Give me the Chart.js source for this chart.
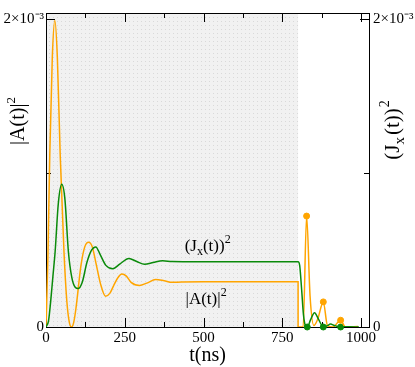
<!DOCTYPE html>
<html><head><meta charset="utf-8">
<script src="https://cdn.jsdelivr.net/npm/chart.js@4"></script>
<style>html,body{margin:0;padding:0;background:#fff;}</style>
</head><body>
<canvas id="c" width="415" height="367"></canvas>
<script>
// ---- data (values in units of 10^-3) ----
const timesA = [0,6,12,20,28,36,45,57,66,74,81,88,95,111,123,135,147,158,173,189,203,215,228,241,255,270,297,320,348,375,400,430,500,600,700,800,800,816,827,838,850,862,880,893,910,935,950,990];
const valuesA = [0,0.45,1.12,1.75,1.99,1.75,1.12,0.49,0.17,0.03,0,0.03,0.12,0.4,0.52,0.55,0.52,0.42,0.28,0.2,0.22,0.27,0.32,0.344,0.33,0.29,0.27,0.285,0.308,0.3,0.29,0.292,0.293,0.293,0.293,0.293,0,0,0.72,0.2,0.01,0.05,0.163,0.01,0,0.044,0,0.003];
const timesJ = [0,8,15,22,29,39,50,60,71,82,92,103,115,130,145,158,172,190,212,235,263,288,313,340,370,400,450,800,805,811,817,824,829,840,852,865,880,892,903,915,935,960,993];
const valuesJ = [0,0.04,0.17,0.33,0.49,0.8,0.926,0.83,0.49,0.32,0.26,0.25,0.29,0.42,0.5,0.52,0.47,0.4,0.378,0.41,0.445,0.425,0.407,0.418,0.43,0.425,0.424,0.424,0.4,0.25,0.08,0.005,0,0.05,0.093,0.05,0,0.008,0.019,0.01,0,0.002,0];
const dotTimesA = [827,880,935];
const dotValuesA = [0.72,0.163,0.044];
const dotTimesJ = [829,880,935];
const dotValuesJ = [0,0,0];
const shadeRange = [0,800];
const xTicks = [0,250,500,750,1000];
const xMinorTicks = [125,375,625,875];
const yTicks = [0,2];
const yTickLabels = ['0','2×10⁻³'];
const yMinorTicks = [1];

const X_MAX = 1025, Y_MAX = 2.038;
const ORANGE = '#ffa500', GREEN = '#0a8a0a';
const SERIF = '"Liberation Serif", "Times New Roman", serif';

function pts(ts, vs){ return ts.map((t,i)=>({x:t,y:vs[i]})); }

function richText(ctx, parts, cx, cy, rot){
  ctx.save();
  ctx.translate(cx, cy);
  ctx.rotate(rot||0);
  ctx.textBaseline = 'alphabetic';
  ctx.textAlign = 'left';
  let w = 0;
  parts.forEach(p=>{ ctx.font = p.size+'px '+SERIF; p.w = ctx.measureText(p.t).width + (p.gap||0); w += p.w; });
  let x = -w/2;
  parts.forEach(p=>{ ctx.font = p.size+'px '+SERIF; ctx.fillStyle='#000'; ctx.fillText(p.t, x, p.dy||0); x += p.w; });
  ctx.restore();
}

const decor = {
  id:'decor',
  beforeDatasetsDraw(chart){
    const {ctx, chartArea:a, scales} = chart;
    const x = scales.x, y = scales.y;
    const pc = document.createElement('canvas'); pc.width = 4; pc.height = 4;
    const p = pc.getContext('2d');
    p.fillStyle = '#f1f1f1'; p.fillRect(0,0,4,4);
    p.fillStyle = '#d9d9d9'; p.fillRect(1,1,1,1);
    ctx.save();
    ctx.fillStyle = ctx.createPattern(pc,'repeat');
    const x0 = x.getPixelForValue(shadeRange[0]), x1 = x.getPixelForValue(shadeRange[1]);
    ctx.fillRect(x0, a.top, x1-x0, a.bottom-a.top);
    // frame
    ctx.strokeStyle = '#000'; ctx.lineWidth = 1;
    ctx.strokeRect(Math.round(a.left)+0.5, Math.round(a.top)+0.5, Math.round(a.right-a.left), Math.round(a.bottom-a.top));
    // inward ticks
    ctx.beginPath();
    const tk = (v, len)=>{ const px = Math.round(x.getPixelForValue(v))+0.5;
      ctx.moveTo(px, a.bottom); ctx.lineTo(px, a.bottom-len);
      ctx.moveTo(px, a.top); ctx.lineTo(px, a.top+len); };
    xTicks.forEach(v=>tk(v,9)); xMinorTicks.forEach(v=>tk(v,5));
    const ytk = (v, len)=>{ const py = Math.round(y.getPixelForValue(v))+0.5;
      ctx.moveTo(a.left, py); ctx.lineTo(a.left+len, py);
      ctx.moveTo(a.right, py); ctx.lineTo(a.right-len, py); };
    yTicks.forEach(v=>ytk(v,9)); yMinorTicks.forEach(v=>ytk(v,5));
    ctx.stroke();
    ctx.restore();
  },
  afterDraw(chart){
    const {ctx, scales} = chart;
    const x = scales.x, y = scales.y;
    // axis titles
    richText(ctx, [{t:'|A(t)|',size:20},{t:'2',size:13,dy:-9}], 24, 121, -Math.PI/2);
    richText(ctx, [{t:'(J',size:21},{t:'x',size:15,dy:5,gap:2},{t:'(t))',size:21,gap:1},{t:'2',size:14,dy:-10}], 399, 130, -Math.PI/2);
    // in-plot annotations
    richText(ctx, [{t:'(J',size:17},{t:'x',size:12,dy:4},{t:'(t))',size:17},{t:'2',size:12,dy:-8}], x.getPixelForValue(513), y.getPixelForValue(0.495), 0);
    richText(ctx, [{t:'|A(t)|',size:17},{t:'2',size:12,dy:-8}], x.getPixelForValue(508), y.getPixelForValue(0.15), 0);
  }
};

new Chart(document.getElementById('c'), {
  type:'line',
  data:{ datasets:[
    {data:pts(timesJ,valuesJ), borderColor:GREEN, borderWidth:1.5, pointRadius:0, cubicInterpolationMode:'monotone', fill:false},
    {data:pts(timesA,valuesA), borderColor:ORANGE, borderWidth:1.5, pointRadius:0, cubicInterpolationMode:'monotone', fill:false},
    {data:pts(dotTimesA,dotValuesA), showLine:false, pointRadius:3, pointBackgroundColor:ORANGE, pointBorderColor:ORANGE, clip:false},
    {data:pts(dotTimesJ,dotValuesJ), showLine:false, pointRadius:3, pointBackgroundColor:GREEN, pointBorderColor:GREEN, clip:false}
  ]},
  options:{
    responsive:false, animation:false, devicePixelRatio:1,
    layout:{padding:{top:5,left:0,right:0,bottom:0}},
    plugins:{legend:{display:false}, tooltip:{enabled:false}},
    scales:{
      x:{type:'linear', min:0, max:X_MAX,
        afterBuildTicks:s=>{ s.ticks = xTicks.map(v=>({value:v})); },
        afterFit:s=>{ s.height = 40; },
        grid:{display:false, drawTicks:false}, border:{display:false},
        ticks:{font:{family:SERIF,size:15}, color:'#000', padding:2, maxRotation:0, autoSkip:false, callback:v=>String(v)},
        title:{display:true, text:'t(ns)', font:{family:SERIF,size:20,lineHeight:1}, color:'#000', padding:{top:0,bottom:1}}
      },
      y:{type:'linear', position:'left', min:0, max:Y_MAX,
        afterBuildTicks:s=>{ s.ticks = yTicks.map(v=>({value:v})); },
        afterFit:s=>{ s.width = 46; },
        grid:{display:false, drawTicks:false}, border:{display:false},
        ticks:{font:{family:SERIF,size:15}, color:'#000', padding:2, callback:v=>yTickLabels[yTicks.indexOf(v)]}
      },
      y2:{type:'linear', position:'right', min:0, max:Y_MAX,
        afterBuildTicks:s=>{ s.ticks = yTicks.map(v=>({value:v})); },
        afterFit:s=>{ s.width = 46; },
        grid:{display:false, drawTicks:false}, border:{display:false},
        ticks:{font:{family:SERIF,size:15}, color:'#000', padding:4, callback:v=>yTickLabels[yTicks.indexOf(v)]}
      }
    }
  },
  plugins:[decor]
});
</script>
</body></html>
